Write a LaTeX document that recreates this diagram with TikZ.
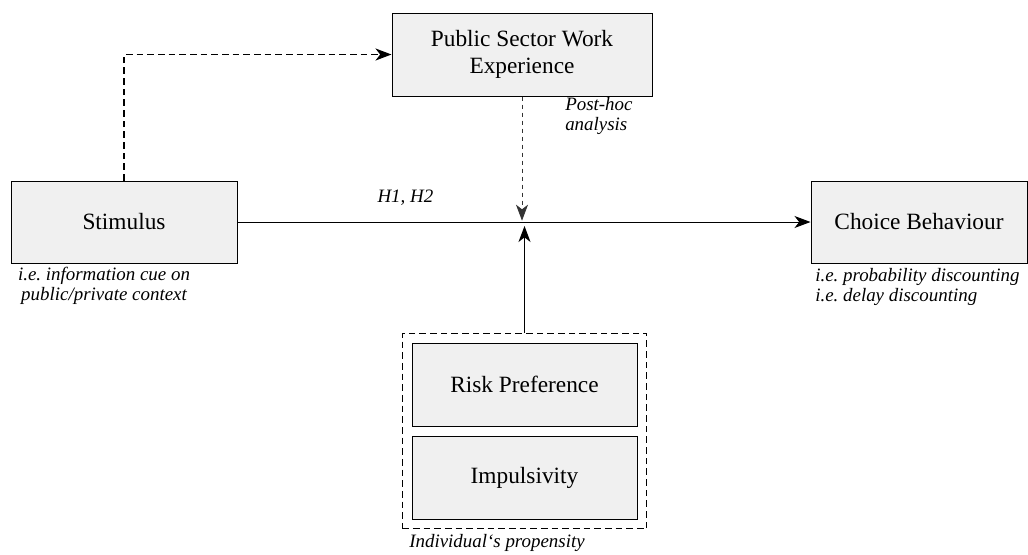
\documentclass[tikz,border=0pt]{standalone}
\usepackage{fontspec}
\setmainfont{Liberation Serif}
\usetikzlibrary{arrows.meta, positioning, fit}
\frenchspacing

\tikzset{
  box/.style={draw, line width=0.75pt, fill=black!6, align=center, inner sep=0pt,
    font=\fontsize{17.5}{20}\selectfont},
  note/.style={font=\fontsize{14.2}{15}\selectfont\itshape, inner sep=0pt},
}

\begin{document}
\begin{tikzpicture}[x=0.75pt, y=-0.75pt, >={Stealth[length=12pt,width=9pt,inset=3.5pt]}]
  \useasboundingbox (0,0) rectangle (1028,554);
  % boxes
  \node[box, minimum width=169.5pt, minimum height=61.5pt] (stim) at (124,222) {Stimulus};
  \node[box, minimum width=195pt, minimum height=62.25pt] (pswe) at (522,54.5) {Public Sector Work\\Experience};
  \node[box, minimum width=162pt, minimum height=61.5pt] (choice) at (919,222) {Choice Behaviour};
  \node[box, minimum width=168.75pt, minimum height=62.25pt] (risk) at (524.5,384.5) {Risk Preference};
  \node[box, minimum width=168.75pt, minimum height=62.25pt] (impuls) at (524.5,477.5) {Impulsivity};
  \node[draw, line width=0.75pt, dash pattern=on 5pt off 3pt, inner sep=7pt, fit=(risk)(impuls)] (group) {};
  % notes
  \node[note, align=center] (stimnote) at (104,286) {i.e. information cue on\\public/private context};
  \node[note, align=left, anchor=west] (choicenote) at (815,287) {i.e. probability discounting\\i.e. delay discounting};
  \node[note, align=left, anchor=west] (posthoc) at (565,116) {Post-hoc\\analysis};
  \node[note, anchor=west] (groupnote) at (409,543) {Individual‘s propensity};
  % connectors
  \coordinate (mid) at (pswe.south |- stim.east);
  \coordinate (midtop) at ([yshift=1pt]mid);
  \coordinate (midlow) at ([yshift=-3pt]mid);
  \draw[->, line width=0.75pt] (stim.east) -- node[note, above=12pt, pos=0.293] (h) {H1, H2} (choice.west);
  \draw[->, line width=1.3pt, dash pattern=on 5pt off 3pt] (stim.north) |- (pswe.west);
  \draw[->, line width=0.6pt, black!80, dash pattern=on 3pt off 3pt] (pswe.south) -- (midtop);
  \draw[->, line width=0.75pt] (group.north) -- (group.north |- midlow);
\end{tikzpicture}
\end{document}
